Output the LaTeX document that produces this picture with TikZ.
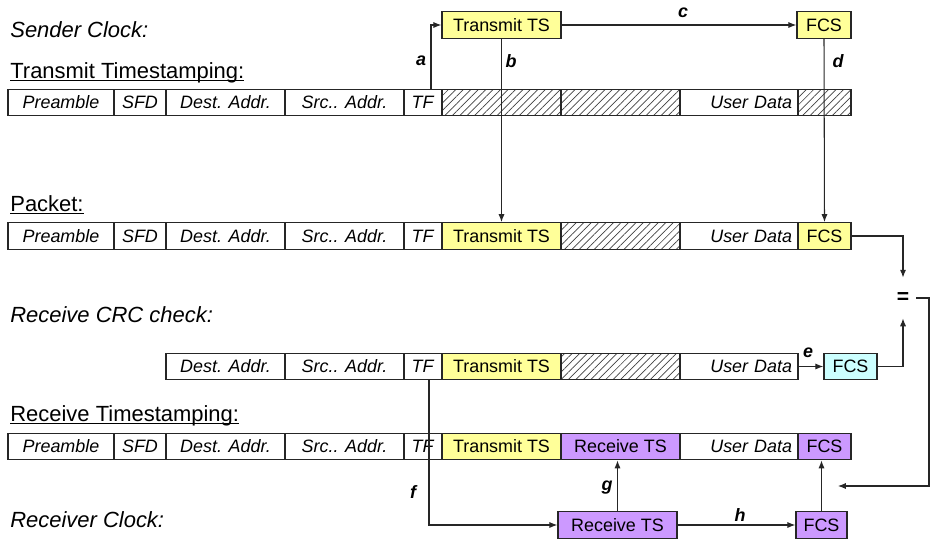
\documentclass[tikz,border=0pt]{standalone}
\usepackage{fontspec}
\setmainfont{Liberation Sans}
\usetikzlibrary{arrows.meta,patterns.meta}
\definecolor{tsyellow}{HTML}{FFFF99}
\definecolor{tspurple}{HTML}{CC99FF}
\definecolor{crccyan}{HTML}{CCFFFF}
\newcommand{\fld}[6]{\node[field,#5,minimum width={(#3-#2)*0.02cm}] (#1) at ({(#2+#3)/2},#4) {#6};}
\newcommand{\uline}[1]{\underline{\smash{#1}}}
\begin{document}
\begin{tikzpicture}[x=0.02cm,y=-0.02cm,
  field/.style={draw=black!85,line width=0.8pt,minimum height=0.53cm,inner sep=0pt,font=\fontsize{10.2}{12}\selectfont},
  hatch/.style={pattern={Lines[angle=45,distance=3pt,line width=0.4pt]},pattern color=black!75},
  yel/.style={fill=tsyellow},
  pur/.style={fill=tspurple},
  cya/.style={fill=crccyan},
  rightdata/.style={text width=2.12cm,align=right},
  heading/.style={anchor=base west,inner sep=0pt,font=\fontsize{12.5}{15}\selectfont},
  tag/.style={inner sep=0pt,font=\fontsize{10.2}{12}\selectfont\bfseries\itshape},
  arr/.style={-{Latex[length=4.5pt,width=3.5pt]},line width=0.6pt,draw=black!85}]
  \useasboundingbox (0,0) rectangle (937,538);

  \node[heading] (sclk) at (10,37) {\textit{Sender Clock:}};
  \node[heading] (ttsl) at (10,78) {\uline{Transmit Timestamping:}};
  \node[heading] (pktl) at (10,211) {\uline{Packet:}};
  \node[heading] (crcl) at (10,322) {\textit{Receive CRC check:}};
  \node[heading] (rtsl) at (10,421) {\uline{Receive Timestamping:}};
  \node[heading] (rclk) at (10,527) {\textit{Receiver Clock:}};

  \fld{sts}{442}{561}{25}{yel}{Transmit TS}
  \fld{sfcs}{797}{851}{25}{yel}{FCS}

  \fld{t1pre}{8}{114}{102.5}{}{\textit{Preamble}}
  \fld{t1sfd}{114}{166}{102.5}{}{\textit{SFD}}
  \fld{t1dst}{166}{285}{102.5}{}{\textit{Dest. Addr.}}
  \fld{t1src}{285}{404}{102.5}{}{\textit{Src.. Addr.}}
  \fld{t1tf}{404}{442}{102.5}{}{\textit{TF}}
  \fld{t1h1}{442}{561}{102.5}{hatch}{}
  \fld{t1h2}{561}{680}{102.5}{hatch}{}
  \fld{t1ud}{680}{798}{102.5}{rightdata}{\textit{User Data}}
  \fld{t1h3}{798}{851}{102.5}{hatch}{}

  \fld{ppre}{8}{114}{236}{}{\textit{Preamble}}
  \fld{psfd}{114}{166}{236}{}{\textit{SFD}}
  \fld{pdst}{166}{285}{236}{}{\textit{Dest. Addr.}}
  \fld{psrc}{285}{404}{236}{}{\textit{Src.. Addr.}}
  \fld{ptf}{404}{442}{236}{}{\textit{TF}}
  \fld{pts}{442}{561}{236}{yel}{Transmit TS}
  \fld{phat}{561}{680}{236}{hatch}{}
  \fld{pud}{680}{798}{236}{rightdata}{\textit{User Data}}
  \fld{pfcs}{798}{851}{236}{yel}{FCS}

  \fld{cdst}{166}{285}{366.5}{}{\textit{Dest. Addr.}}
  \fld{csrc}{285}{404}{366.5}{}{\textit{Src.. Addr.}}
  \fld{ctf}{404}{442}{366.5}{}{\textit{TF}}
  \fld{cts}{442}{561}{366.5}{yel}{Transmit TS}
  \fld{chat}{561}{680}{366.5}{hatch}{}
  \fld{cud}{680}{798}{366.5}{rightdata}{\textit{User Data}}
  \fld{cfcs}{824}{877}{366.5}{cya}{FCS}

  \fld{rpre}{8}{114}{446.5}{}{\textit{Preamble}}
  \fld{rsfd}{114}{166}{446.5}{}{\textit{SFD}}
  \fld{rdst}{166}{285}{446.5}{}{\textit{Dest. Addr.}}
  \fld{rsrc}{285}{404}{446.5}{}{\textit{Src.. Addr.}}
  \fld{rtf}{404}{442}{446.5}{}{\textit{TF}}
  \fld{rts}{442}{561}{446.5}{yel}{Transmit TS}
  \fld{rrts}{561}{680}{446.5}{pur}{Receive TS}
  \fld{rud}{680}{798}{446.5}{rightdata}{\textit{User Data}}
  \fld{rfcs}{798}{851}{446.5}{pur}{FCS}

  \fld{rcts}{558}{677}{525}{pur}{Receive TS}
  \fld{rcfcs}{796}{847}{525}{pur}{FCS}

  \node[inner sep=0pt,minimum width=0.52cm,minimum height=0.8cm,font=\fontsize{12}{14}\selectfont\bfseries] (eq) at (903,298) {=};
  \coordinate (eqturn) at (929,486);
  \coordinate (fcsin) at (838,486);

  \draw[arr] ([xshift=0.16cm]t1tf.north) |- (sts.west);
  \draw[arr] (sts.east) -- (sfcs.west);
  \draw[arr] (sts.south) -- (pts.north);
  \draw[arr] (sfcs.south) -- (pfcs.north);
  \draw[arr] (pfcs.east) -| (eq.north);
  \draw[arr] (cud.east) -- (cfcs.west);
  \draw[arr] (cfcs.east) -| (eq.south);
  \draw[arr] (eq.east) -| (eqturn) -- (fcsin);
  \draw[arr] ([xshift=0.12cm]ctf.south) |- (rcts.west);
  \draw[arr] (rcts.north) -- (rcts.north |- rrts.south);
  \draw[arr] (rcts.east) -- (rcfcs.west);
  \draw[arr] (rcfcs.north) -- (rcfcs.north |- rfcs.south);

  \node[tag] (la) at (421,61) {a};
  \node[tag] (lb) at (511,61) {b};
  \node[tag] (lc) at (683,13) {c};
  \node[tag] (ld) at (838,61) {d};
  \node[tag] (le) at (808,353) {e};
  \node[tag] (lf) at (413,492) {f};
  \node[tag] (lg) at (607,488) {g};
  \node[tag] (lh) at (740,515) {h};
\end{tikzpicture}
\end{document}
